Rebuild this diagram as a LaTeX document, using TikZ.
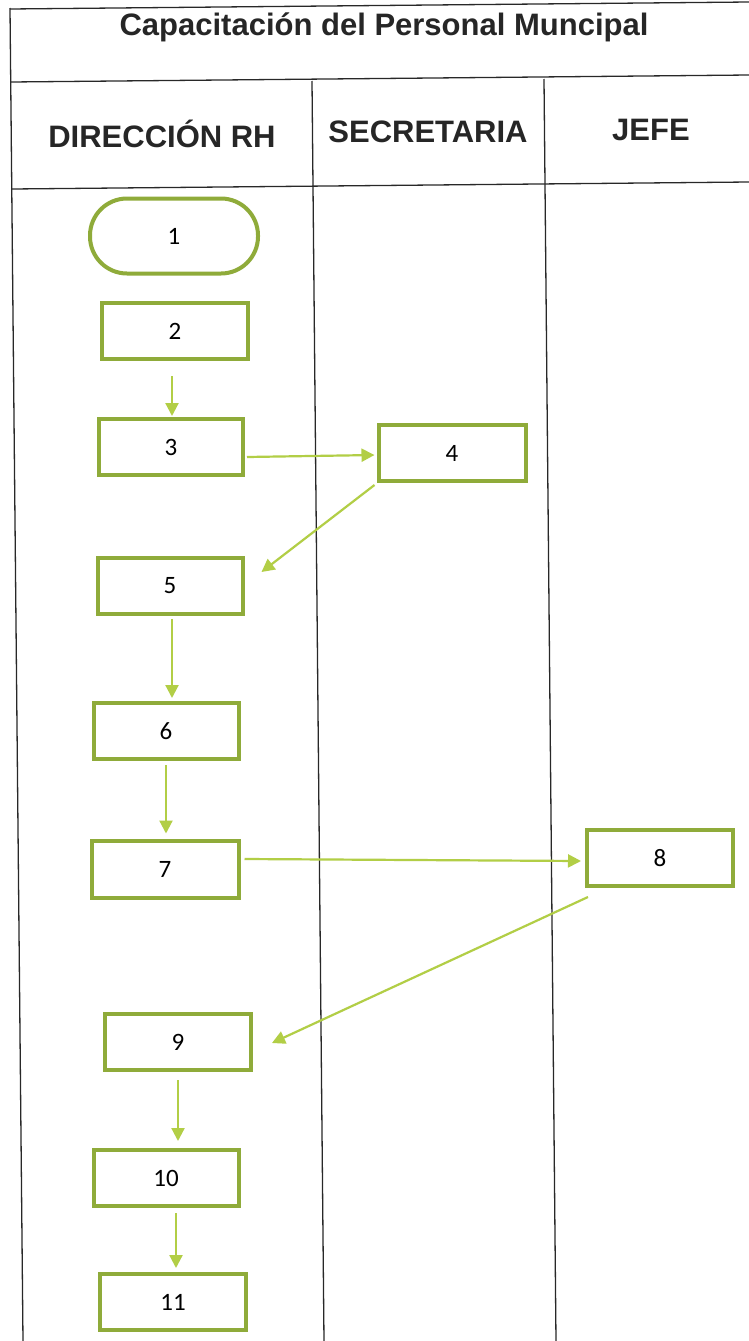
\documentclass[tikz,border=0pt]{standalone}
\usepackage{fontspec}
\setmainfont{Liberation Sans}
\newfontfamily\numfont{Carlito}
\usetikzlibrary{arrows.meta,calc}
\definecolor{boxgreen}{RGB}{143,171,58}
\definecolor{arrgreen}{RGB}{178,206,70}
\definecolor{gridline}{RGB}{40,40,40}
\begin{document}
\begin{tikzpicture}[x=1pt,y=-1pt,
  grid/.style={draw=gridline,line width=1.3pt},
  stepbox/.style={draw=boxgreen,line width=4pt,fill=white,inner sep=0pt,
    minimum width=146pt,minimum height=56pt,font=\numfont\fontsize{25}{30}\selectfont},
  termbox/.style={stepbox,rounded corners=37pt,minimum width=168pt,minimum height=75pt},
  arr/.style={draw=arrgreen,line width=2.2pt,-{Triangle[length=13pt,width=13pt]}},
  headtxt/.style={font=\bfseries\fontsize{31}{36}\selectfont,text=black!85,inner sep=0pt}
]
\useasboundingbox (0,0) rectangle (749,1341);
\fill[white] (0,0) rectangle (749,1341);
% table lines
\draw[grid] (10,9) -- (749,2);
\draw[grid] (11,82) -- (749,75);
\draw[grid] (12,189) -- (749,182);
\draw[grid] (10,8) -- (23,1341);
\draw[grid] (312,81) -- (324,1341);
\draw[grid] (544,79) -- (556,1341);
% header texts
\node[headtxt] (title) at (384,27) {Capacitación del Personal Muncipal};
\node[headtxt] (h1) at (162,134) {DIRECCIÓN RH};
\node[headtxt] (h2) at (428,132) {SECRETARIA};
\node[headtxt] (h3) at (651,130) {JEFE};
% steps
\node[termbox] (n1) at (174,236) {1};
\node[stepbox] (n2) at (175,331) {2};
\node[stepbox,minimum width=144pt] (n3) at (171,447) {3};
\node[stepbox,minimum width=147pt] (n4) at (452,453) {4};
\node[stepbox,minimum width=145pt] (n5) at (170,586) {5};
\node[stepbox,minimum width=145pt] (n6) at (166,731) {6};
\node[stepbox,minimum width=147pt,minimum height=57pt] (n7) at (165,869) {7};
\node[stepbox] (n8) at (660,858) {8};
\node[stepbox] (n9) at (178,1042) {9};
\node[stepbox,minimum width=145pt] (n10) at (166,1178) {10};
\node[stepbox] (n11) at (173,1302) {11};
% connectors
\draw[arr] ($(n2.south)+(-3,15)$) -- ($(n3.north)+(1,-1)$);
\draw[arr] ($(n3.east)+(2,10)$) -- ($(n4.west)+(-2,2)$);
\draw[arr] ($(n4.south west)+(-2,2)$) -- ($(n5.east)+(17,-14)$);
\draw[arr] ($(n5.south)+(2,3)$) -- ($(n6.north)+(6,-3)$);
\draw[arr] ($(n6.south)+(0,4)$) -- ($(n7.north)+(1,-5)$);
\draw[arr] ($(n7.east)+(4,-10)$) -- ($(n8.west)+(-4,3)$);
\draw[arr] ($(n8.south west)+(3,9)$) -- ($(n9.east)+(19,1)$);
\draw[arr] ($(n9.south)+(0,8)$) -- ($(n10.north)+(12,-7)$);
\draw[arr] ($(n10.south)+(10,5)$) -- ($(n11.north)+(3,-4)$);
\end{tikzpicture}
\end{document}
